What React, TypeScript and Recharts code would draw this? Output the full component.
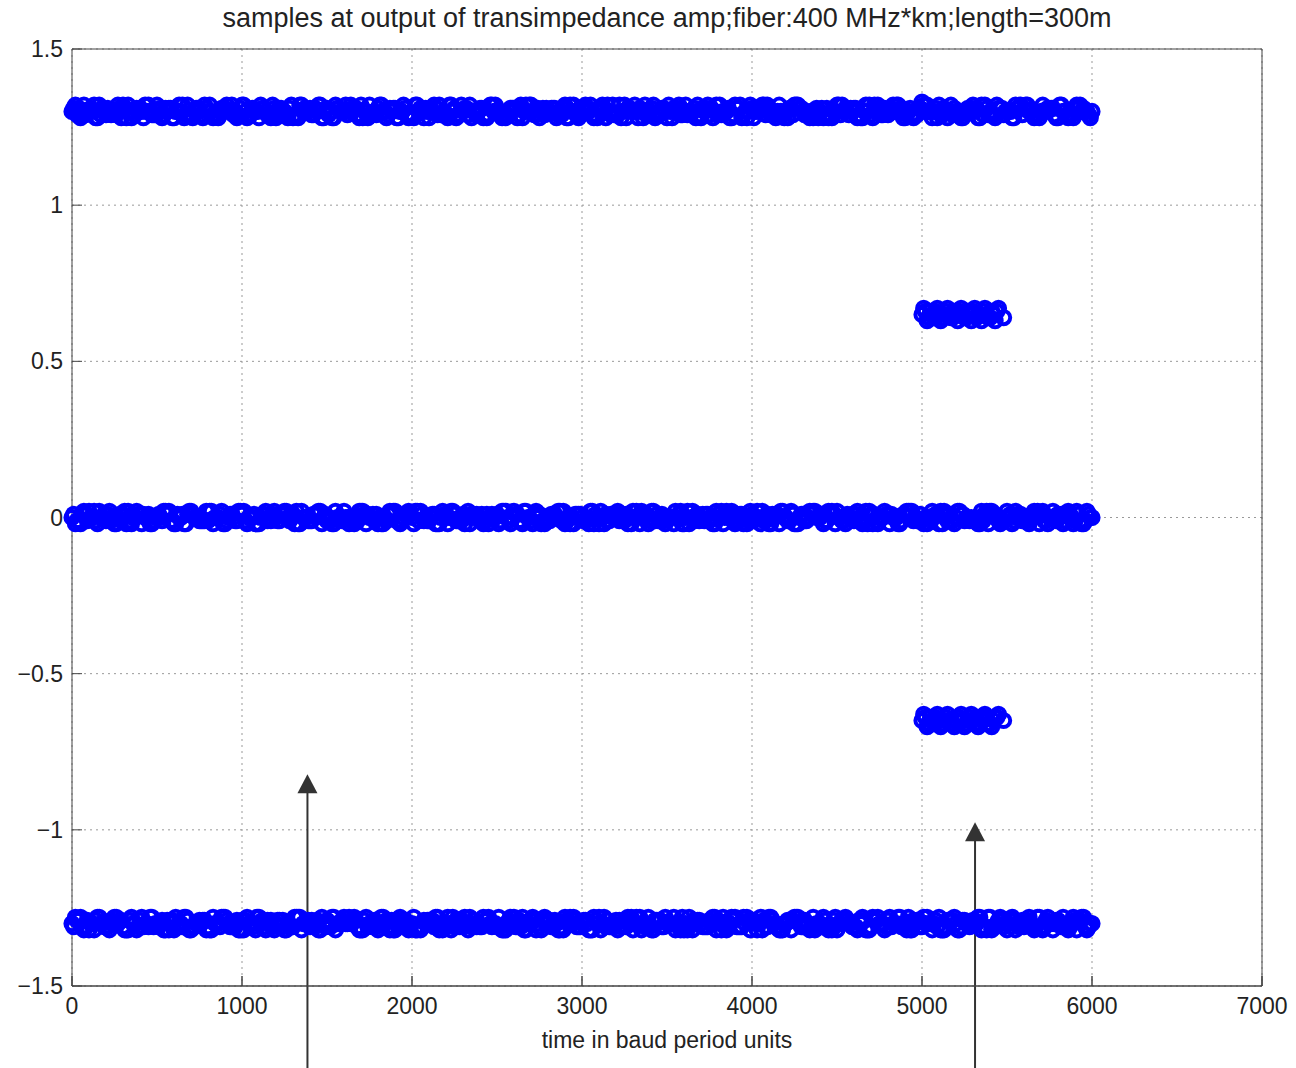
import React from 'react';
import { ScatterChart, Scatter, XAxis, YAxis, CartesianGrid, ReferenceLine } from 'recharts';

document.body.style.margin = '0';

// sample instants (baud periods) for the three main levels, four interleaved groups
const baudTimes = [
  0, 40, 80, 120, 160, 200, 240, 280, 320, 360,
  400, 440, 480, 520, 560, 600, 640, 680, 720, 760,
  800, 840, 880, 920, 960, 1000, 1040, 1080, 1120, 1160,
  1200, 1240, 1280, 1320, 1360, 1400, 1440, 1480, 1520, 1560,
  1600, 1640, 1680, 1720, 1760, 1800, 1840, 1880, 1920, 1960,
  2000, 2040, 2080, 2120, 2160, 2200, 2240, 2280, 2320, 2360,
  2400, 2440, 2480, 2520, 2560, 2600, 2640, 2680, 2720, 2760,
  2800, 2840, 2880, 2920, 2960, 3000, 3040, 3080, 3120, 3160,
  3200, 3240, 3280, 3320, 3360, 3400, 3440, 3480, 3520, 3560,
  3600, 3640, 3680, 3720, 3760, 3800, 3840, 3880, 3920, 3960,
  4000, 4040, 4080, 4120, 4160, 4200, 4240, 4280, 4320, 4360,
  4400, 4440, 4480, 4520, 4560, 4600, 4640, 4680, 4720, 4760,
  4800, 4840, 4880, 4920, 4960, 5000, 5040, 5080, 5120, 5160,
  5200, 5240, 5280, 5320, 5360, 5400, 5440, 5480, 5520, 5560,
  5600, 5640, 5680, 5720, 5760, 5800, 5840, 5880, 5920, 5960,
  6000,
];

const baudTimesB = [
  20, 60, 100, 140, 180, 220, 260, 300, 340, 380,
  420, 460, 500, 540, 580, 620, 660, 700, 740, 780,
  820, 860, 900, 940, 980, 1020, 1060, 1100, 1140, 1180,
  1220, 1260, 1300, 1340, 1380, 1420, 1460, 1500, 1540, 1580,
  1620, 1660, 1700, 1740, 1780, 1820, 1860, 1900, 1940, 1980,
  2020, 2060, 2100, 2140, 2180, 2220, 2260, 2300, 2340, 2380,
  2420, 2460, 2500, 2540, 2580, 2620, 2660, 2700, 2740, 2780,
  2820, 2860, 2900, 2940, 2980, 3020, 3060, 3100, 3140, 3180,
  3220, 3260, 3300, 3340, 3380, 3420, 3460, 3500, 3540, 3580,
  3620, 3660, 3700, 3740, 3780, 3820, 3860, 3900, 3940, 3980,
  4020, 4060, 4100, 4140, 4180, 4220, 4260, 4300, 4340, 4380,
  4420, 4460, 4500, 4540, 4580, 4620, 4660, 4700, 4740, 4780,
  4820, 4860, 4900, 4940, 4980, 5020, 5060, 5100, 5140, 5180,
  5220, 5260, 5300, 5340, 5380, 5420, 5460, 5500, 5540, 5580,
  5620, 5660, 5700, 5740, 5780, 5820, 5860, 5900, 5940, 5980,
];

const baudTimesC = [
  10, 50, 90, 130, 170, 210, 250, 290, 330, 370,
  410, 450, 490, 530, 570, 610, 650, 690, 730, 770,
  810, 850, 890, 930, 970, 1010, 1050, 1090, 1130, 1170,
  1210, 1250, 1290, 1330, 1370, 1410, 1450, 1490, 1530, 1570,
  1610, 1650, 1690, 1730, 1770, 1810, 1850, 1890, 1930, 1970,
  2010, 2050, 2090, 2130, 2170, 2210, 2250, 2290, 2330, 2370,
  2410, 2450, 2490, 2530, 2570, 2610, 2650, 2690, 2730, 2770,
  2810, 2850, 2890, 2930, 2970, 3010, 3050, 3090, 3130, 3170,
  3210, 3250, 3290, 3330, 3370, 3410, 3450, 3490, 3530, 3570,
  3610, 3650, 3690, 3730, 3770, 3810, 3850, 3890, 3930, 3970,
  4010, 4050, 4090, 4130, 4170, 4210, 4250, 4290, 4330, 4370,
  4410, 4450, 4490, 4530, 4570, 4610, 4650, 4690, 4730, 4770,
  4810, 4850, 4890, 4930, 4970, 5010, 5050, 5090, 5130, 5170,
  5210, 5250, 5290, 5330, 5370, 5410, 5450, 5490, 5530, 5570,
  5610, 5650, 5690, 5730, 5770, 5810, 5850, 5890, 5930, 5970,
];

const baudTimesD = [
  30, 70, 110, 150, 190, 230, 270, 310, 350, 390,
  430, 470, 510, 550, 590, 630, 670, 710, 750, 790,
  830, 870, 910, 950, 990, 1030, 1070, 1110, 1150, 1190,
  1230, 1270, 1310, 1350, 1390, 1430, 1470, 1510, 1550, 1590,
  1630, 1670, 1710, 1750, 1790, 1830, 1870, 1910, 1950, 1990,
  2030, 2070, 2110, 2150, 2190, 2230, 2270, 2310, 2350, 2390,
  2430, 2470, 2510, 2550, 2590, 2630, 2670, 2710, 2750, 2790,
  2830, 2870, 2910, 2950, 2990, 3030, 3070, 3110, 3150, 3190,
  3230, 3270, 3310, 3350, 3390, 3430, 3470, 3510, 3550, 3590,
  3630, 3670, 3710, 3750, 3790, 3830, 3870, 3910, 3950, 3990,
  4030, 4070, 4110, 4150, 4190, 4230, 4270, 4310, 4350, 4390,
  4430, 4470, 4510, 4550, 4590, 4630, 4670, 4710, 4750, 4790,
  4830, 4870, 4910, 4950, 4990, 5030, 5070, 5110, 5150, 5190,
  5230, 5270, 5310, 5350, 5390, 5430, 5470, 5510, 5550, 5590,
  5630, 5670, 5710, 5750, 5790, 5830, 5870, 5910, 5950, 5990,
];

const highLevel = [
  1.30, 1.31, 1.29, 1.30, 1.32, 1.29, 1.30, 1.31, 1.28, 1.30,
  1.31, 1.30, 1.29, 1.31, 1.30, 1.28, 1.30, 1.32, 1.30, 1.29,
  1.30, 1.29, 1.31, 1.30, 1.30, 1.32, 1.29, 1.30, 1.31, 1.29,
  1.28, 1.30, 1.31, 1.29, 1.30, 1.31, 1.30, 1.28, 1.30, 1.31,
  1.30, 1.32, 1.29, 1.30, 1.29, 1.31, 1.30, 1.30, 1.28, 1.31,
  1.29, 1.30, 1.31, 1.30, 1.32, 1.29, 1.30, 1.29, 1.31, 1.30,
  1.31, 1.28, 1.30, 1.30, 1.29, 1.31, 1.32, 1.30, 1.29, 1.30,
  1.30, 1.31, 1.29, 1.28, 1.30, 1.31, 1.30, 1.29, 1.32, 1.30,
  1.29, 1.30, 1.31, 1.30, 1.28, 1.30, 1.29, 1.31, 1.30, 1.31,
  1.30, 1.29, 1.32, 1.30, 1.31, 1.29, 1.30, 1.28, 1.31, 1.30,
  1.31, 1.30, 1.29, 1.30, 1.32, 1.30, 1.29, 1.31, 1.30, 1.28,
  1.30, 1.31, 1.30, 1.29, 1.30, 1.31, 1.28, 1.30, 1.32, 1.29,
  1.29, 1.30, 1.31, 1.30, 1.29, 1.33, 1.30, 1.31, 1.29, 1.30,
  1.30, 1.28, 1.30, 1.31, 1.29, 1.30, 1.32, 1.29, 1.30, 1.31,
  1.31, 1.30, 1.29, 1.30, 1.31, 1.28, 1.30, 1.29, 1.31, 1.30,
  1.30,
];

const highLevelB = [
  1.32, 1.29, 1.30, 1.28, 1.31, 1.30, 1.29, 1.32, 1.30, 1.31,
  1.28, 1.30, 1.32, 1.29, 1.31, 1.30, 1.28, 1.29, 1.31, 1.32,
  1.30, 1.28, 1.31, 1.32, 1.29, 1.30, 1.31, 1.28, 1.30, 1.32,
  1.31, 1.29, 1.28, 1.32, 1.30, 1.29, 1.32, 1.31, 1.28, 1.30,
  1.29, 1.31, 1.32, 1.28, 1.30, 1.32, 1.29, 1.31, 1.30, 1.28,
  1.32, 1.30, 1.28, 1.31, 1.29, 1.32, 1.28, 1.30, 1.32, 1.29,
  1.28, 1.32, 1.30, 1.29, 1.31, 1.28, 1.30, 1.32, 1.31, 1.29,
  1.31, 1.29, 1.32, 1.30, 1.28, 1.32, 1.29, 1.31, 1.28, 1.32,
  1.32, 1.28, 1.30, 1.31, 1.29, 1.32, 1.30, 1.28, 1.31, 1.29,
  1.29, 1.31, 1.28, 1.32, 1.30, 1.29, 1.31, 1.32, 1.28, 1.30,
  1.30, 1.32, 1.31, 1.28, 1.29, 1.31, 1.32, 1.30, 1.28, 1.31,
  1.28, 1.29, 1.32, 1.30, 1.31, 1.28, 1.30, 1.29, 1.32, 1.31,
  1.31, 1.32, 1.28, 1.29, 1.31, 1.30, 1.28, 1.32, 1.30, 1.29,
  1.29, 1.30, 1.32, 1.28, 1.31, 1.29, 1.31, 1.30, 1.28, 1.32,
  1.32, 1.28, 1.30, 1.31, 1.29, 1.32, 1.28, 1.31, 1.30, 1.29,
];

const highLevelC = [
  1.31, 1.28, 1.30, 1.32, 1.29, 1.31, 1.30, 1.28, 1.32, 1.29,
  1.30, 1.32, 1.29, 1.28, 1.31, 1.30, 1.32, 1.29, 1.31, 1.28,
  1.32, 1.29, 1.31, 1.30, 1.28, 1.32, 1.29, 1.30, 1.31, 1.28,
  1.29, 1.30, 1.32, 1.28, 1.31, 1.29, 1.32, 1.30, 1.28, 1.31,
  1.32, 1.31, 1.28, 1.30, 1.29, 1.32, 1.28, 1.31, 1.30, 1.29,
  1.28, 1.31, 1.30, 1.32, 1.29, 1.28, 1.31, 1.32, 1.29, 1.30,
  1.31, 1.29, 1.32, 1.28, 1.30, 1.31, 1.28, 1.32, 1.29, 1.31,
  1.30, 1.28, 1.31, 1.32, 1.29, 1.30, 1.32, 1.28, 1.31, 1.29,
  1.29, 1.32, 1.30, 1.28, 1.32, 1.31, 1.29, 1.30, 1.28, 1.32,
  1.32, 1.30, 1.29, 1.31, 1.28, 1.32, 1.30, 1.29, 1.32, 1.28,
  1.28, 1.31, 1.32, 1.29, 1.30, 1.28, 1.32, 1.31, 1.29, 1.30,
  1.31, 1.28, 1.30, 1.32, 1.29, 1.31, 1.28, 1.32, 1.30, 1.29,
  1.30, 1.32, 1.28, 1.31, 1.29, 1.32, 1.30, 1.28, 1.31, 1.32,
  1.29, 1.30, 1.31, 1.28, 1.32, 1.29, 1.31, 1.30, 1.28, 1.31,
  1.32, 1.29, 1.28, 1.30, 1.31, 1.32, 1.29, 1.28, 1.32, 1.30,
];

const highLevelD = [
  1.29, 1.32, 1.31, 1.28, 1.30, 1.29, 1.32, 1.31, 1.28, 1.30,
  1.32, 1.29, 1.30, 1.31, 1.28, 1.32, 1.29, 1.28, 1.30, 1.31,
  1.28, 1.30, 1.32, 1.29, 1.31, 1.28, 1.30, 1.32, 1.29, 1.31,
  1.31, 1.28, 1.29, 1.32, 1.30, 1.31, 1.28, 1.29, 1.32, 1.30,
  1.30, 1.31, 1.28, 1.32, 1.29, 1.30, 1.31, 1.28, 1.32, 1.29,
  1.32, 1.28, 1.31, 1.29, 1.30, 1.32, 1.29, 1.31, 1.28, 1.30,
  1.29, 1.32, 1.30, 1.28, 1.31, 1.29, 1.32, 1.30, 1.28, 1.31,
  1.31, 1.30, 1.28, 1.32, 1.29, 1.31, 1.28, 1.30, 1.32, 1.29,
  1.28, 1.31, 1.32, 1.30, 1.29, 1.28, 1.31, 1.32, 1.30, 1.29,
  1.30, 1.28, 1.31, 1.29, 1.32, 1.30, 1.28, 1.31, 1.29, 1.32,
  1.31, 1.32, 1.29, 1.30, 1.28, 1.31, 1.32, 1.29, 1.30, 1.28,
  1.29, 1.28, 1.32, 1.31, 1.30, 1.29, 1.32, 1.28, 1.31, 1.30,
  1.32, 1.30, 1.29, 1.28, 1.31, 1.32, 1.30, 1.29, 1.28, 1.31,
  1.28, 1.31, 1.30, 1.32, 1.29, 1.28, 1.31, 1.30, 1.32, 1.29,
  1.30, 1.29, 1.32, 1.31, 1.28, 1.30, 1.29, 1.32, 1.31, 1.28,
];

const zeroLevel = [
  0.00, -0.01, 0.01, 0.00, 0.02, -0.01, 0.00, 0.01, -0.02, 0.00,
  0.01, 0.00, -0.01, 0.00, 0.01, -0.02, 0.00, 0.01, 0.00, -0.01,
  -0.01, 0.00, 0.02, 0.00, -0.01, 0.01, 0.00, -0.02, 0.01, 0.00,
  0.00, 0.01, -0.01, 0.02, 0.00, -0.01, 0.01, 0.00, -0.01, 0.00,
  0.02, 0.00, -0.01, 0.01, 0.00, -0.02, 0.00, 0.01, -0.01, 0.01,
  0.00, -0.01, 0.00, 0.01, -0.02, 0.00, 0.02, -0.01, 0.00, 0.01,
  -0.01, 0.01, 0.00, -0.01, 0.00, 0.02, -0.01, 0.00, 0.01, -0.02,
  0.00, 0.01, -0.01, 0.00, 0.01, 0.00, -0.02, 0.01, 0.00, -0.01,
  0.01, -0.01, 0.00, 0.02, 0.00, -0.01, 0.01, -0.01, 0.00, 0.00,
  -0.02, 0.00, 0.01, -0.01, 0.00, 0.01, 0.00, 0.02, -0.01, 0.00,
  0.01, 0.00, -0.01, 0.01, -0.02, 0.00, 0.01, 0.00, -0.01, 0.02,
  0.00, -0.01, 0.01, 0.00, 0.01, -0.01, 0.00, -0.02, 0.01, 0.00,
  0.01, 0.00, -0.01, 0.02, 0.00, -0.01, 0.00, 0.01, -0.02, 0.01,
  0.00, 0.01, -0.01, 0.00, -0.01, 0.02, 0.00, -0.01, 0.01, 0.00,
  -0.01, 0.00, 0.02, -0.01, 0.00, 0.01, -0.01, 0.00, 0.01, -0.01,
  0.00,
];

const zeroLevelB = [
  -0.02, 0.01, 0.02, -0.01, 0.00, 0.02, -0.02, 0.01, -0.01, 0.02,
  0.01, -0.02, 0.00, 0.02, -0.01, 0.01, -0.02, 0.02, 0.00, -0.01,
  0.02, 0.00, -0.02, 0.01, 0.02, -0.01, 0.00, -0.02, 0.02, 0.01,
  -0.01, 0.02, 0.01, -0.02, 0.00, 0.01, 0.02, -0.01, -0.02, 0.00,
  0.00, -0.02, 0.02, 0.01, -0.01, -0.02, 0.01, 0.02, -0.01, 0.02,
  0.02, 0.01, -0.01, -0.02, 0.02, 0.00, -0.01, 0.01, -0.02, 0.01,
  -0.02, 0.00, 0.01, 0.02, -0.02, 0.01, 0.02, -0.01, 0.00, -0.02,
  0.01, 0.02, -0.02, 0.00, 0.01, -0.01, 0.02, -0.02, 0.01, 0.00,
  -0.01, 0.01, 0.02, -0.02, 0.01, 0.02, -0.01, 0.00, -0.02, 0.02,
  0.02, -0.01, 0.00, 0.01, -0.02, 0.02, 0.01, -0.02, 0.01, -0.01,
  0.00, 0.02, -0.02, 0.01, 0.02, -0.01, -0.02, 0.01, 0.02, 0.00,
  -0.02, 0.01, 0.02, -0.01, 0.00, 0.02, -0.01, 0.01, -0.02, 0.02,
  0.01, -0.02, 0.01, 0.02, -0.01, 0.00, 0.02, -0.02, 0.01, -0.01,
  0.02, 0.00, -0.01, -0.02, 0.02, 0.01, -0.02, 0.02, -0.01, 0.01,
  -0.01, 0.02, 0.01, -0.02, 0.00, 0.01, 0.02, -0.01, -0.02, 0.01,
];

const zeroLevelC = [
  0.01, -0.02, -0.01, 0.02, 0.00, 0.01, -0.02, -0.01, 0.02, 0.00,
  -0.02, 0.01, 0.00, -0.01, 0.02, -0.02, 0.01, 0.02, 0.00, -0.01,
  0.02, 0.00, -0.02, 0.01, -0.01, 0.02, 0.00, -0.02, 0.01, -0.01,
  -0.01, 0.02, 0.01, -0.02, 0.00, -0.01, 0.02, 0.01, -0.02, 0.00,
  0.00, -0.01, 0.02, -0.02, 0.01, 0.00, -0.01, 0.02, -0.02, 0.01,
  -0.02, 0.02, -0.01, 0.01, 0.00, -0.02, 0.01, -0.01, 0.02, 0.00,
  0.01, -0.02, 0.00, 0.02, -0.01, 0.01, -0.02, 0.00, 0.02, -0.01,
  -0.01, 0.00, 0.02, -0.02, 0.01, -0.01, 0.02, 0.00, -0.02, 0.01,
  0.02, -0.01, -0.02, 0.00, 0.01, 0.02, -0.01, -0.02, 0.00, 0.01,
  0.00, 0.02, -0.01, 0.01, -0.02, 0.00, 0.02, -0.01, 0.01, -0.02,
  -0.01, -0.02, 0.01, 0.00, 0.02, -0.01, -0.02, 0.01, 0.00, 0.02,
  0.01, 0.02, -0.02, -0.01, 0.00, 0.01, -0.02, 0.02, -0.01, 0.00,
  -0.02, 0.00, 0.01, 0.02, -0.01, -0.02, 0.00, 0.01, 0.02, -0.01,
  0.02, -0.01, 0.00, -0.02, 0.01, 0.02, -0.01, 0.00, -0.02, 0.01,
  0.00, 0.01, -0.02, -0.01, 0.02, 0.00, 0.01, -0.02, -0.01, 0.02,
];

const zeroLevelD = [
  -0.01, 0.02, 0.00, -0.02, 0.01, -0.01, 0.00, 0.02, -0.02, 0.01,
  0.00, -0.02, 0.01, 0.02, -0.01, 0.00, -0.02, 0.01, -0.01, 0.02,
  -0.02, 0.01, -0.01, 0.00, 0.02, -0.02, 0.01, 0.00, -0.01, 0.02,
  0.01, 0.00, -0.02, 0.02, -0.01, 0.01, -0.02, 0.00, 0.02, -0.01,
  -0.02, -0.01, 0.02, 0.00, 0.01, -0.02, 0.02, -0.01, 0.00, 0.01,
  0.02, -0.01, 0.00, -0.02, 0.01, 0.02, -0.01, -0.02, 0.01, 0.00,
  -0.01, 0.01, -0.02, 0.02, 0.00, -0.01, 0.02, -0.02, 0.01, -0.01,
  0.00, 0.02, -0.01, -0.02, 0.01, 0.00, -0.02, 0.02, -0.01, 0.01,
  0.01, -0.02, 0.00, 0.02, -0.02, -0.01, 0.01, 0.00, 0.02, -0.02,
  -0.02, 0.00, 0.01, -0.01, 0.02, -0.02, 0.00, 0.01, -0.02, 0.02,
  0.02, -0.01, -0.02, 0.01, 0.00, 0.02, -0.02, -0.01, 0.01, 0.00,
  -0.01, 0.02, 0.00, -0.02, 0.01, -0.01, 0.02, -0.02, 0.00, 0.01,
  0.00, -0.02, 0.02, -0.01, 0.01, -0.02, 0.00, 0.02, -0.01, -0.02,
  0.01, 0.00, -0.01, 0.02, -0.02, 0.01, -0.01, 0.00, 0.02, -0.01,
  -0.02, 0.01, 0.02, 0.00, -0.01, -0.02, 0.01, 0.02, -0.02, 0.00,
];

const lowLevel = [
  -1.30, -1.29, -1.31, -1.30, -1.28, -1.31, -1.30, -1.29, -1.32, -1.30,
  -1.29, -1.30, -1.31, -1.30, -1.29, -1.32, -1.30, -1.29, -1.31, -1.30,
  -1.31, -1.30, -1.28, -1.30, -1.31, -1.29, -1.30, -1.32, -1.29, -1.30,
  -1.30, -1.29, -1.31, -1.28, -1.30, -1.31, -1.29, -1.30, -1.31, -1.30,
  -1.28, -1.30, -1.31, -1.29, -1.30, -1.32, -1.30, -1.29, -1.31, -1.29,
  -1.30, -1.31, -1.30, -1.29, -1.32, -1.30, -1.28, -1.31, -1.30, -1.29,
  -1.31, -1.29, -1.30, -1.31, -1.30, -1.28, -1.31, -1.30, -1.29, -1.32,
  -1.30, -1.29, -1.31, -1.30, -1.29, -1.30, -1.32, -1.29, -1.30, -1.31,
  -1.29, -1.31, -1.30, -1.28, -1.30, -1.31, -1.29, -1.31, -1.30, -1.30,
  -1.32, -1.30, -1.29, -1.31, -1.30, -1.29, -1.30, -1.28, -1.31, -1.30,
  -1.29, -1.30, -1.31, -1.29, -1.32, -1.30, -1.29, -1.30, -1.31, -1.28,
  -1.30, -1.31, -1.29, -1.30, -1.29, -1.31, -1.30, -1.32, -1.29, -1.30,
  -1.29, -1.30, -1.31, -1.28, -1.30, -1.31, -1.30, -1.29, -1.32, -1.29,
  -1.30, -1.29, -1.31, -1.30, -1.31, -1.28, -1.30, -1.31, -1.29, -1.30,
  -1.31, -1.30, -1.28, -1.31, -1.30, -1.29, -1.31, -1.30, -1.29, -1.31,
  -1.30,
];

const lowLevelB = [
  -1.28, -1.31, -1.32, -1.29, -1.30, -1.32, -1.28, -1.31, -1.29, -1.32,
  -1.31, -1.28, -1.30, -1.32, -1.29, -1.31, -1.28, -1.32, -1.30, -1.29,
  -1.32, -1.30, -1.28, -1.31, -1.32, -1.29, -1.30, -1.28, -1.32, -1.31,
  -1.29, -1.32, -1.31, -1.28, -1.30, -1.31, -1.32, -1.29, -1.28, -1.30,
  -1.30, -1.28, -1.32, -1.31, -1.29, -1.28, -1.31, -1.32, -1.29, -1.32,
  -1.32, -1.31, -1.29, -1.28, -1.32, -1.30, -1.29, -1.31, -1.28, -1.31,
  -1.28, -1.30, -1.31, -1.32, -1.28, -1.31, -1.32, -1.29, -1.30, -1.28,
  -1.31, -1.32, -1.28, -1.30, -1.31, -1.29, -1.32, -1.28, -1.31, -1.30,
  -1.29, -1.31, -1.32, -1.28, -1.31, -1.32, -1.29, -1.30, -1.28, -1.32,
  -1.32, -1.29, -1.30, -1.31, -1.28, -1.32, -1.31, -1.28, -1.31, -1.29,
  -1.30, -1.32, -1.28, -1.31, -1.32, -1.29, -1.28, -1.31, -1.32, -1.30,
  -1.28, -1.31, -1.32, -1.29, -1.30, -1.32, -1.29, -1.31, -1.28, -1.32,
  -1.31, -1.28, -1.31, -1.32, -1.29, -1.30, -1.32, -1.28, -1.31, -1.29,
  -1.32, -1.30, -1.29, -1.28, -1.32, -1.31, -1.28, -1.32, -1.29, -1.31,
  -1.29, -1.32, -1.31, -1.28, -1.30, -1.31, -1.32, -1.29, -1.28, -1.31,
];

const lowLevelC = [
  -1.31, -1.28, -1.29, -1.32, -1.30, -1.31, -1.28, -1.29, -1.32, -1.30,
  -1.28, -1.31, -1.30, -1.29, -1.32, -1.28, -1.31, -1.32, -1.30, -1.29,
  -1.32, -1.30, -1.28, -1.31, -1.29, -1.32, -1.30, -1.28, -1.31, -1.29,
  -1.29, -1.32, -1.31, -1.28, -1.30, -1.29, -1.32, -1.31, -1.28, -1.30,
  -1.30, -1.29, -1.32, -1.28, -1.31, -1.30, -1.29, -1.32, -1.28, -1.31,
  -1.28, -1.32, -1.29, -1.31, -1.30, -1.28, -1.31, -1.29, -1.32, -1.30,
  -1.31, -1.28, -1.30, -1.32, -1.29, -1.31, -1.28, -1.30, -1.32, -1.29,
  -1.29, -1.30, -1.32, -1.28, -1.31, -1.29, -1.32, -1.30, -1.28, -1.31,
  -1.32, -1.29, -1.28, -1.30, -1.31, -1.32, -1.29, -1.28, -1.30, -1.31,
  -1.30, -1.32, -1.29, -1.31, -1.28, -1.30, -1.32, -1.29, -1.31, -1.28,
  -1.29, -1.28, -1.31, -1.30, -1.32, -1.29, -1.28, -1.31, -1.30, -1.32,
  -1.31, -1.32, -1.28, -1.29, -1.30, -1.31, -1.28, -1.32, -1.29, -1.30,
  -1.28, -1.30, -1.31, -1.32, -1.29, -1.28, -1.30, -1.31, -1.32, -1.29,
  -1.32, -1.29, -1.30, -1.28, -1.31, -1.32, -1.29, -1.30, -1.28, -1.31,
  -1.30, -1.31, -1.28, -1.29, -1.32, -1.30, -1.31, -1.28, -1.29, -1.32,
];

const lowLevelD = [
  -1.29, -1.32, -1.30, -1.28, -1.31, -1.29, -1.30, -1.32, -1.28, -1.31,
  -1.30, -1.28, -1.31, -1.32, -1.29, -1.30, -1.28, -1.31, -1.29, -1.32,
  -1.28, -1.31, -1.29, -1.30, -1.32, -1.28, -1.31, -1.30, -1.29, -1.32,
  -1.31, -1.30, -1.28, -1.32, -1.29, -1.31, -1.28, -1.30, -1.32, -1.29,
  -1.28, -1.29, -1.32, -1.30, -1.31, -1.28, -1.32, -1.29, -1.30, -1.31,
  -1.32, -1.29, -1.30, -1.28, -1.31, -1.32, -1.29, -1.28, -1.31, -1.30,
  -1.29, -1.31, -1.28, -1.32, -1.30, -1.29, -1.32, -1.28, -1.31, -1.29,
  -1.30, -1.32, -1.29, -1.28, -1.31, -1.30, -1.28, -1.32, -1.29, -1.31,
  -1.31, -1.28, -1.30, -1.32, -1.28, -1.29, -1.31, -1.30, -1.32, -1.28,
  -1.28, -1.30, -1.31, -1.29, -1.32, -1.28, -1.30, -1.31, -1.28, -1.32,
  -1.32, -1.29, -1.28, -1.31, -1.30, -1.32, -1.28, -1.29, -1.31, -1.30,
  -1.29, -1.32, -1.30, -1.28, -1.31, -1.29, -1.32, -1.28, -1.30, -1.31,
  -1.30, -1.28, -1.32, -1.29, -1.31, -1.28, -1.30, -1.32, -1.29, -1.28,
  -1.31, -1.30, -1.29, -1.32, -1.28, -1.31, -1.29, -1.30, -1.32, -1.29,
  -1.28, -1.31, -1.32, -1.30, -1.29, -1.28, -1.31, -1.32, -1.28, -1.30,
];

// short burst of intermediate levels
const burstTimes = [
  5000, 5020, 5040, 5060, 5080, 5100, 5120, 5140, 5160, 5180, 5200, 5220,
  5240, 5260, 5280, 5300, 5320, 5340, 5360, 5380, 5400, 5420, 5440, 5480,
];
const burstHigh = [
  0.65, 0.66, 0.64, 0.65, 0.66, 0.65, 0.64, 0.66, 0.65, 0.64, 0.65, 0.66,
  0.65, 0.64, 0.65, 0.66, 0.64, 0.65, 0.66, 0.65, 0.64, 0.65, 0.66, 0.64,
];
const burstLow = [
  -0.65, -0.64, -0.66, -0.65, -0.64, -0.65, -0.66, -0.64, -0.65, -0.66, -0.65, -0.64,
  -0.65, -0.66, -0.64, -0.65, -0.64, -0.66, -0.65, -0.64, -0.66, -0.65, -0.64, -0.65,
];
const burstTimesB = [
  5010, 5030, 5050, 5070, 5090, 5110, 5130, 5150, 5170, 5190, 5210, 5230,
  5250, 5270, 5290, 5310, 5330, 5350, 5370, 5390, 5410, 5430, 5450,
];
const burstHighB = [
  0.67, 0.63, 0.66, 0.64, 0.67, 0.63, 0.65, 0.67, 0.64, 0.66, 0.63, 0.67,
  0.64, 0.66, 0.63, 0.67, 0.65, 0.63, 0.67, 0.64, 0.66, 0.63, 0.67,
];
const burstLowB = [
  -0.63, -0.67, -0.64, -0.66, -0.63, -0.67, -0.65, -0.63, -0.66, -0.67, -0.64, -0.63,
  -0.67, -0.65, -0.63, -0.66, -0.67, -0.64, -0.63, -0.66, -0.67, -0.64, -0.63,
];

const xTicks = [0, 1000, 2000, 3000, 4000, 5000, 6000, 7000];
const yTicks = [-1.5, -1, -0.5, 0, 0.5, 1, 1.5];

// annotation arrows: time position, tail value, tip value
const arrows = [
  { t: 1385, from: -1.77, to: -0.822 },
  { t: 5312, from: -1.77, to: -0.976 },
];

const toPoints = (times: number[], vals: number[]) => times.map((t, i) => ({ t, v: vals[i] }));

const series = [
  toPoints(baudTimes, highLevel),
  toPoints(baudTimesB, highLevelB),
  toPoints(baudTimesC, highLevelC),
  toPoints(baudTimesD, highLevelD),
  toPoints(baudTimes, zeroLevel),
  toPoints(baudTimesB, zeroLevelB),
  toPoints(baudTimesC, zeroLevelC),
  toPoints(baudTimesD, zeroLevelD),
  toPoints(baudTimes, lowLevel),
  toPoints(baudTimesB, lowLevelB),
  toPoints(baudTimesC, lowLevelC),
  toPoints(baudTimesD, lowLevelD),
  toPoints(burstTimes, burstHigh),
  toPoints(burstTimesB, burstHighB),
  toPoints(burstTimes, burstLow),
  toPoints(burstTimesB, burstLowB),
];

const FONT = '"Liberation Sans", Arial, Helvetica, sans-serif';
const AXIS = '#444';

const RingMarker = (props: any) => (
  <circle cx={props.cx} cy={props.cy} r={6.6} fill="none" stroke="#0000ff" strokeWidth={4} />
);

const Arrow = (props: any) => {
  const { x1, y1, x2, y2 } = props;
  const tipX = x2, tipY = Math.min(y1, y2);
  const tailY = Math.max(y1, y2);
  return (
    <g>
      <line x1={tipX} y1={tailY} x2={tipX} y2={tipY + 15} stroke="#333" strokeWidth={2} />
      <polygon points={`${tipX},${tipY} ${tipX - 10},${tipY + 19} ${tipX + 10},${tipY + 19}`} fill="#333" />
    </g>
  );
};

const NoLabel = () => <g />;

const fmtY = (v: number) => String(v).replace('-', '\u2212');

export default function App() {
  return (
    <div style={{ position: 'relative', width: 1296, height: 1068, background: '#fff' }}>
      <div
        style={{
          position: 'absolute', left: 72, width: 1190, top: 3, textAlign: 'center',
          fontFamily: FONT, fontSize: 27, color: '#222', whiteSpace: 'nowrap',
        }}
      >
        samples at output of transimpedance amp;fiber:400 MHz*km;length=300m
      </div>
      <ScatterChart width={1296} height={1068} margin={{ top: 48, right: 33, bottom: 12, left: 12 }}>
        <CartesianGrid stroke="#999" strokeDasharray="2 4" ticks={xTicks} />
        <XAxis
          dataKey="t" type="number" domain={[0, 7000]} ticks={xTicks} height={70}
          tickSize={-10} tickMargin={22} stroke={AXIS} strokeWidth={1.5}
          tick={{ fill: '#222', fontSize: 23, fontFamily: FONT }}
          label={{ value: 'time in baud period units', position: 'insideBottom', offset: 8, fill: '#222', fontSize: 23, fontFamily: FONT }}
        />
        <XAxis xAxisId="top" orientation="top" type="number" domain={[0, 7000]} ticks={xTicks} height={1}
          tickSize={-10} stroke={AXIS} tick={<NoLabel />} />
        <YAxis
          dataKey="v" type="number" domain={[-1.5, 1.5]} ticks={yTicks} width={60}
          tickSize={-10} tickMargin={19} stroke={AXIS} tickFormatter={fmtY}
          tick={{ fill: '#222', fontSize: 23, fontFamily: FONT }}
        />
        <YAxis yAxisId="right" orientation="right" type="number" domain={[-1.5, 1.5]} ticks={yTicks} width={1}
          tickSize={-10} stroke={AXIS} tick={<NoLabel />} />
        {series.map((d, i) => (
          <Scatter key={i} data={d} shape={RingMarker} isAnimationActive={false} />
        ))}
        {arrows.map((a, i) => (
          <ReferenceLine key={'a' + i} ifOverflow="visible" segment={[{ x: a.t, y: a.from }, { x: a.t, y: a.to }]} shape={Arrow} />
        ))}
      </ScatterChart>
    </div>
  );
}
